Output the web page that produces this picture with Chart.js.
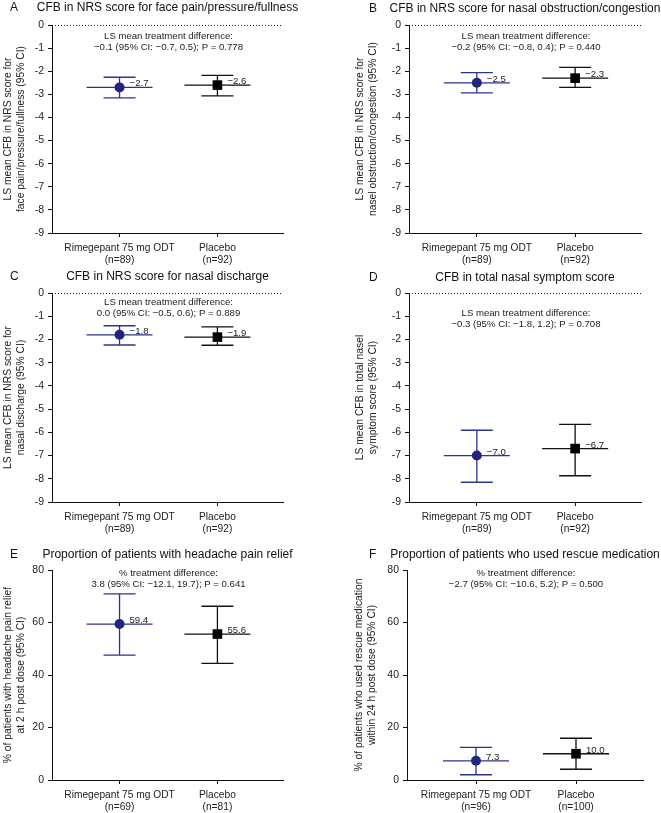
<!DOCTYPE html>
<html>
<head>
<meta charset="utf-8">
<script src="https://cdn.jsdelivr.net/npm/chart.js@4.4.1/dist/chart.umd.min.js"></script>
<style>
  body { margin: 0; background: #fff; }
  #wrap { position: relative; width: 661px; height: 813px; }
  canvas { position: absolute; }
</style>
</head>
<body>
<div id="wrap">
  <canvas id="cA" width="330" height="270" style="left:0;top:0"></canvas>
  <canvas id="cB" width="331" height="270" style="left:330px;top:0"></canvas>
  <canvas id="cC" width="330" height="270" style="left:0;top:270px"></canvas>
  <canvas id="cD" width="331" height="270" style="left:330px;top:270px"></canvas>
  <canvas id="cE" width="330" height="273" style="left:0;top:540px"></canvas>
  <canvas id="cF" width="331" height="273" style="left:330px;top:540px"></canvas>
</div>
<script>
// ---- data ----
const groups = ['Rimegepant 75 mg ODT', 'Placebo'];
const letters = ['A', 'B', 'C', 'D', 'E', 'F'];
const titles = [
  'CFB in NRS score for face pain/pressure/fullness',
  'CFB in NRS score for nasal obstruction/congestion',
  'CFB in NRS score for nasal discharge',
  'CFB in total nasal symptom score',
  'Proportion of patients with headache pain relief',
  'Proportion of patients who used rescue medication'
];
const yTitles = [
  ['LS mean CFB in NRS score for', 'face pain/pressure/fullness (95% CI)'],
  ['LS mean CFB in NRS score for', 'nasel obstruction/congestion (95% CI)'],
  ['LS mean CFB in NRS score for', 'nasal discharge (95% CI)'],
  ['LS mean CFB in total nasel', 'symptom score (95% CI)'],
  ['% of patients with headache pain relief', 'at 2 h post dose (95% CI)'],
  ['% of patients who used rescue medication', 'within 24 h post dose (95% CI)']
];
const nCounts = [[89, 92], [89, 92], [89, 92], [89, 92], [69, 81], [96, 100]];
const means = [[-2.7, -2.6], [-2.5, -2.3], [-1.8, -1.9], [-7.0, -6.7], [59.4, 55.6], [7.3, 10.0]];
const ciLow = [[-3.15, -3.07], [-2.94, -2.7], [-2.24, -2.25], [-8.15, -7.87], [47.6, 44.4], [2.0, 4.1]];
const ciHigh = [[-2.26, -2.18], [-2.06, -1.83], [-1.41, -1.46], [-5.91, -5.66], [70.9, 66.2], [12.4, 15.9]];
const noteHeads = [
  'LS mean treatment difference:',
  'LS mean treatment difference:',
  'LS mean treatment difference:',
  'LS mean treatment difference:',
  '% treatment difference:',
  '% treatment difference:'
];
const noteTexts = [
  '\u22120.1 (95% CI: \u22120.7, 0.5); P = 0.778',
  '\u22120.2 (95% CI: \u22120.8, 0.4); P = 0.440',
  '0.0 (95% CI: \u22120.5, 0.6); P = 0.889',
  '\u22120.3 (95% CI: \u22121.8, 1.2); P = 0.708',
  '3.8 (95% CI: \u221212.1, 19.7); P = 0.641',
  '\u22122.7 (95% CI: \u221210.6, 5.2); P = 0.500'
];
const nrsRange = [-9, 0, 1];
const pctRange = [0, 80, 20];

// ---- layout / style ----
const FONT = "'Liberation Sans', Arial, Helvetica, sans-serif";
const lineColors = ['#2f348b', '#111111'];
const markColors = ['#22267a', '#000000'];
const markStyles = ['circle', 'rect'];
const markSizes = [5, 6.8];

const panels = [
  { id: 'cA', padTop: 25, padLeft: 0, axisW: 52, padRight: 47, axisH: 37, titleY: 8, noteY: 11, yPad: 1 },
  { id: 'cB', padTop: 25, padLeft: 19, axisW: 60, padRight: 20, axisH: 37, titleY: 9, noteY: 11, yPad: 4 },
  { id: 'cC', padTop: 23, padLeft: 0, axisW: 52, padRight: 47, axisH: 38, titleY: 7, noteY: 9, yPad: 1 },
  { id: 'cD', padTop: 23, padLeft: 19, axisW: 60, padRight: 20, axisH: 38, titleY: 7.5, noteY: 20, yPad: 4 },
  { id: 'cE', padTop: 30, padLeft: 0, axisW: 52, padRight: 47, axisH: 33, titleY: 15, noteY: 3, yPad: 1 },
  { id: 'cF', padTop: 30, padLeft: 19, axisW: 58, padRight: 18, axisH: 33, titleY: 15, noteY: 3, yPad: 3 }
];

function fmt(v) {
  return v.toFixed(1).replace('-', '\u2212');
}

const panelDraw = {
  id: 'panelDraw',
  beforeDatasetsDraw(chart, args, o) {
    const { ctx, chartArea: a, scales: { x, y } } = chart;
    ctx.save();
    if (o.zeroLine) {
      ctx.strokeStyle = '#222';
      ctx.lineWidth = 1;
      ctx.setLineDash([1, 2]);
      const y0 = Math.round(y.getPixelForValue(0)) + 0.5;
      ctx.beginPath();
      ctx.moveTo(a.left + 3, y0);
      ctx.lineTo(a.right, y0);
      ctx.stroke();
      ctx.setLineDash([]);
    }
    ctx.lineWidth = 1.3;
    for (let i = 0; i < o.lo.length; i++) {
      const px = x.getPixelForValue(i);
      const yl = y.getPixelForValue(o.lo[i]);
      const yh = y.getPixelForValue(o.hi[i]);
      const ym = y.getPixelForValue(o.mean[i]);
      ctx.strokeStyle = lineColors[i];
      ctx.beginPath();
      ctx.moveTo(px, yl); ctx.lineTo(px, yh);
      ctx.moveTo(px - 16, yl); ctx.lineTo(px + 16, yl);
      ctx.moveTo(px - 16, yh); ctx.lineTo(px + 16, yh);
      ctx.moveTo(px - 33, ym); ctx.lineTo(px + 33, ym);
      ctx.stroke();
    }
    ctx.restore();
  },
  afterDatasetsDraw(chart, args, o) {
    const { ctx, chartArea: a, scales: { x, y } } = chart;
    ctx.save();
    ctx.fillStyle = '#222';
    // value labels
    ctx.font = '9.6px ' + FONT;
    ctx.textAlign = 'left';
    ctx.textBaseline = 'alphabetic';
    for (let i = 0; i < o.mean.length; i++) {
      ctx.fillText(fmt(o.mean[i]), x.getPixelForValue(i) + 10, y.getPixelForValue(o.mean[i]) - 1);
    }
    // treatment difference note
    const cx = (a.left + a.right) / 2 + 1;
    ctx.font = '9.6px ' + FONT;
    ctx.textAlign = 'center';
    ctx.textBaseline = 'middle';
    ctx.fillText(o.head, cx, a.top + o.noteY);
    ctx.fillText(o.text, cx, a.top + o.noteY + 11.5);
    // panel title and letter
    ctx.font = '12px ' + FONT;
    ctx.fillStyle = '#111';
    ctx.fillText(o.title, cx - 1, o.titleY);
    ctx.textAlign = 'left';
    ctx.fillText(o.letter, o.letterX, o.titleY);
    ctx.restore();
  }
};

panels.forEach((p, k) => {
  const isPct = k >= 4;
  const range = isPct ? pctRange : nrsRange;
  new Chart(document.getElementById(p.id), {
    type: 'scatter',
    data: {
      datasets: [{
        data: means[k].map((m, i) => ({ x: i, y: m })),
        pointStyle: markStyles,
        pointRadius: markSizes,
        pointBackgroundColor: markColors,
        pointBorderColor: markColors,
        pointBorderWidth: 0
      }]
    },
    options: {
      responsive: false,
      animation: false,
      layout: { padding: { top: p.padTop, left: p.padLeft, right: p.padRight, bottom: 0 } },
      plugins: {
        legend: { display: false },
        tooltip: { enabled: false },
        panelDraw: {
          lo: ciLow[k], hi: ciHigh[k], mean: means[k],
          head: noteHeads[k], text: noteTexts[k],
          title: titles[k], letter: letters[k],
          titleY: p.titleY, noteY: p.noteY,
          letterX: p.padLeft ? 39 : 10,
          zeroLine: !isPct
        }
      },
      scales: {
        x: {
          type: 'linear',
          min: -0.69,
          max: 1.67,
          afterBuildTicks: s => { s.ticks = [{ value: 0 }, { value: 1 }]; },
          afterFit: s => { s.height = p.axisH; },
          ticks: {
            color: '#222',
            padding: 6,
            font: { family: FONT, size: 10.2, lineHeight: 1.1 },
            callback: v => [groups[v], '(n=' + nCounts[k][v] + ')']
          },
          grid: { drawOnChartArea: false, drawTicks: true, tickLength: 4, color: '#111' },
          border: { display: true, color: '#111', width: 1 }
        },
        y: {
          min: range[0],
          max: range[1],
          afterFit: s => { s.width = p.axisW; },
          ticks: {
            stepSize: range[2],
            color: '#222',
            padding: 4,
            font: { family: FONT, size: 10.5 }
          },
          title: {
            display: true,
            text: yTitles[k],
            color: '#222',
            padding: { top: p.yPad, bottom: 0 },
            font: { family: FONT, size: 10.3, lineHeight: 1.3 }
          },
          grid: { drawOnChartArea: false, drawTicks: true, tickLength: 4, color: '#111' },
          border: { display: true, color: '#111', width: 1 }
        }
      }
    },
    plugins: [panelDraw]
  });
});
</script>
</body>
</html>
